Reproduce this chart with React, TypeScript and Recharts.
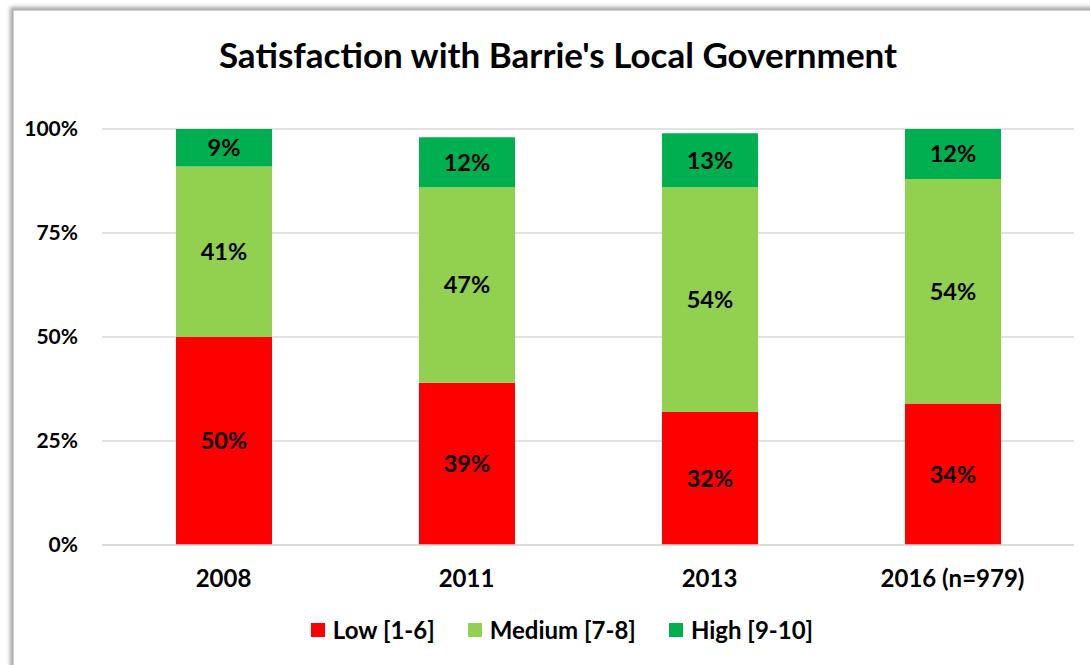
import React from "react";
import { BarChart, Bar, XAxis, YAxis, CartesianGrid, LabelList } from "recharts";

const categories = ["2008", "2011", "2013", "2016 (n=979)"];
const lowValues = [50, 39, 32, 34];
const mediumValues = [41, 47, 54, 54];
const highValues = [9, 12, 13, 12];
const yTicks = [0, 25, 50, 75, 100];

const seriesInfo = [
  { key: "low", name: "Low [1-6]", color: "#FF0000" },
  { key: "medium", name: "Medium [7-8]", color: "#92D050" },
  { key: "high", name: "High [9-10]", color: "#00B050" },
];

const data = categories.map((c, i) => ({
  name: c,
  low: lowValues[i],
  medium: mediumValues[i],
  high: highValues[i],
}));

const FONT = "Lato, 'Open Sans', sans-serif";

export default function App() {
  return (
    <div style={{ position: "fixed", left: 0, top: 0, width: 1090, height: 665, background: "#fff", overflow: "hidden" }}>
      <div
        style={{
          position: "absolute",
          left: 13,
          top: 10,
          width: 1090,
          height: 670,
          background: "#fff",
          borderLeft: "1px solid #d0d0d0",
          borderTop: "1px solid #d0d0d0",
          boxShadow: "-3px -3px 4px rgba(0,0,0,0.35)",
        }}
      />
      <div
        style={{
          position: "absolute",
          left: 0,
          width: 1116,
          top: 33,
          textAlign: "center",
          fontFamily: FONT,
          fontWeight: 700,
          fontSize: 35,
          color: "#000",
          lineHeight: "42px",
        }}
      >
        Satisfaction with Barrie's Local Government
      </div>
      <div style={{ position: "absolute", left: 0, top: 0 }}>
        <BarChart width={1090} height={665} data={data} margin={{ top: 129, right: 16, bottom: 90, left: 22 }}>
          <CartesianGrid vertical={false} stroke="#d9d9d9" strokeWidth={1.5} />
          <XAxis
            dataKey="name"
            height={30}
            axisLine={{ stroke: "#d9d9d9", strokeWidth: 1.5 }}
            tickLine={false}
            tickSize={0}
            tickMargin={25}
            tick={{ fill: "#000", fontFamily: FONT, fontWeight: 700, fontSize: 24 }}
          />
          <YAxis
            width={80}
            domain={[0, 100]}
            ticks={yTicks}
            tickFormatter={(v) => `${v}%`}
            axisLine={false}
            tickLine={false}
            tickSize={0}
            tickMargin={24}
            interval={0}
            tick={{ fill: "#000", fontFamily: FONT, fontWeight: 700, fontSize: 21 }}
          />
          {seriesInfo.map((s) => (
            <Bar key={s.key} dataKey={s.key} name={s.name} stackId="a" fill={s.color} barSize={96} isAnimationActive={false}>
              <LabelList
                dataKey={s.key}
                position="center"
                formatter={(v: number) => `${v}%`}
                style={{ fill: "#000", fontFamily: FONT, fontWeight: 700, fontSize: 23.5 }}
              />
            </Bar>
          ))}
        </BarChart>
      </div>
      <div
        style={{
          position: "absolute",
          left: 0,
          width: 1124,
          top: 615,
          display: "flex",
          justifyContent: "center",
          alignItems: "center",
          fontFamily: FONT,
          fontWeight: 700,
          fontSize: 24,
          color: "#000",
          lineHeight: "30px",
        }}
      >
        {seriesInfo.map((s, i) => (
          <div key={s.key} style={{ display: "flex", alignItems: "center", marginLeft: i === 0 ? 0 : 33 }}>
            <div style={{ width: 14, height: 14, background: s.color, marginRight: 8 }} />
            <span>{s.name}</span>
          </div>
        ))}
      </div>
    </div>
  );
}
